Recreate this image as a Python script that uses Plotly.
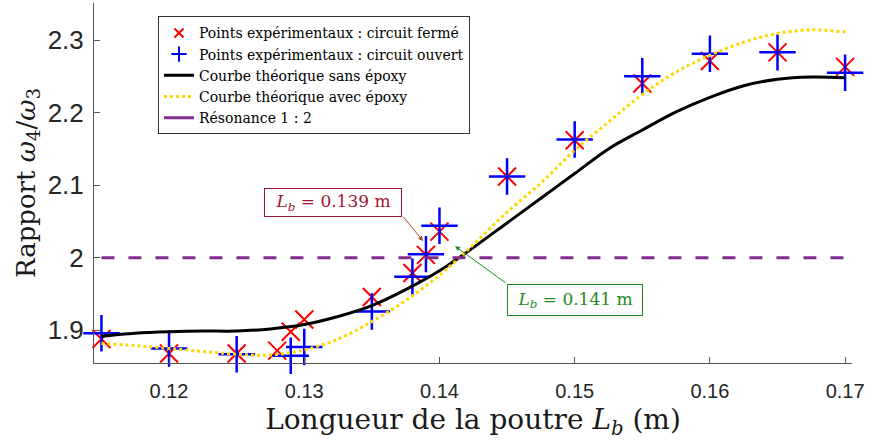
import plotly.graph_objects as go

# ---------------- data ----------------
x_exp = [0.115, 0.120, 0.125, 0.128, 0.129, 0.130, 0.135, 0.138, 0.139, 0.140,
         0.145, 0.150, 0.155, 0.160, 0.165, 0.170]
ratio_ferme = [1.888, 1.868, 1.868, 1.872, 1.898, 1.915, 1.946, 1.979, 2.004, 2.036,
               2.112, 2.162, 2.240, 2.271, 2.283, 2.263]
ratio_ouvert = [1.896, 1.875, 1.867, 1.854, 1.865, 1.877, 1.926, 1.974, 2.005, 2.044,
                2.112, 2.163, 2.250, 2.281, 2.283, 2.255]

x_theo = [0.115, 0.1175, 0.120, 0.1225, 0.125, 0.1275, 0.130, 0.1325, 0.135, 0.1375,
          0.140, 0.1425, 0.145, 0.1475, 0.150, 0.1525, 0.155, 0.1575, 0.160, 0.1625,
          0.165, 0.1675, 0.170]
theo_sans_epoxy = [1.892, 1.896, 1.898, 1.899, 1.899, 1.902, 1.908, 1.919, 1.934, 1.956,
                   1.982, 2.014, 2.048, 2.082, 2.116, 2.150, 2.176, 2.201, 2.221, 2.237,
                   2.246, 2.249, 2.248]
theo_avec_epoxy = [1.882, 1.879, 1.875, 1.871, 1.867, 1.866, 1.873, 1.888, 1.912, 1.941,
                   1.976, 2.018, 2.063, 2.103, 2.148, 2.187, 2.225, 2.256, 2.279, 2.297,
                   2.309, 2.314, 2.311]

resonance_x = [0.115, 0.170]
resonance_y = [2.0, 2.0]

x_ticks = [0.12, 0.13, 0.14, 0.15, 0.16, 0.17]
x_ticklabels = ["0.12", "0.13", "0.14", "0.15", "0.16", "0.17"]
y_ticks = [1.9, 2.0, 2.1, 2.2, 2.3]
y_ticklabels = ["1.9", "2", "2.1", "2.2", "2.3"]

WSERIF = "DejaVu Serif, serif"
SANS = "Liberation Sans, Arial, sans-serif"

RED = "#FF0000"
BLUE = "#0000FF"
GOLD = "#FFD700"
PURPLE = "#7E2F8E"

fig = go.Figure()

# data traces (legend handled by small legend-only traces below)
fig.add_trace(go.Scatter(
    x=x_exp, y=ratio_ferme, mode="markers", showlegend=False, cliponaxis=False,
    marker=dict(symbol="x-thin", size=18, line=dict(color=RED, width=2)),
))
fig.add_trace(go.Scatter(
    x=x_exp, y=ratio_ouvert, mode="markers", showlegend=False, cliponaxis=False,
    marker=dict(symbol="cross-thin", size=26, line=dict(color=BLUE, width=2.5)),
))
fig.add_trace(go.Scatter(
    x=x_theo, y=theo_sans_epoxy, mode="lines", line_shape="spline", showlegend=False,
    line=dict(color="#000000", width=3),
))
fig.add_trace(go.Scatter(
    x=x_theo, y=theo_avec_epoxy, mode="lines", line_shape="spline", showlegend=False,
    line=dict(color=GOLD, width=3, dash="dot"),
))
fig.add_trace(go.Scatter(
    x=resonance_x, y=resonance_y, mode="lines", showlegend=False,
    line=dict(color=PURPLE, width=3, dash="13px,14px"),
))

# legend entries
fig.add_trace(go.Scatter(
    x=[None], y=[None], mode="markers", name="Points expérimentaux : circuit fermé",
    marker=dict(symbol="x-thin", size=9, line=dict(color=RED, width=2)),
))
fig.add_trace(go.Scatter(
    x=[None], y=[None], mode="markers", name="Points expérimentaux : circuit ouvert",
    marker=dict(symbol="cross-thin", size=11, line=dict(color=BLUE, width=2)),
))
fig.add_trace(go.Scatter(
    x=[None], y=[None], mode="lines", name="Courbe théorique sans époxy",
    line=dict(color="#000000", width=3),
))
fig.add_trace(go.Scatter(
    x=[None], y=[None], mode="lines", name="Courbe théorique avec époxy",
    line=dict(color=GOLD, width=3, dash="dot"),
))
fig.add_trace(go.Scatter(
    x=[None], y=[None], mode="lines", name="Résonance 1 : 2",
    line=dict(color=PURPLE, width=3),
))

# Annotations (text boxes + arrows)
red_c = "#A2142F"
green_c = "#1F8A1F"
fig.add_annotation(
    x=0.13213, y=2.076, xref="x", yref="y", showarrow=False,
    text="<i>L</i><sub><i>b</i></sub> = 0.139 m",
    font=dict(family=WSERIF, size=17, color=red_c),
    bordercolor=red_c, borderwidth=1, bgcolor="white",
    width=134, height=25,
)
fig.add_annotation(
    x=0.13879, y=2.023, ax=0.13723, ay=2.0587,
    xref="x", yref="y", axref="x", ayref="y",
    text="", showarrow=True, arrowhead=2, arrowsize=1, arrowwidth=1,
    arrowcolor="#A0522D",
)
fig.add_annotation(
    x=0.15003, y=1.9424, xref="x", yref="y", showarrow=False,
    text="<i>L</i><sub><i>b</i></sub> = 0.141 m",
    font=dict(family=WSERIF, size=17, color=green_c),
    bordercolor=green_c, borderwidth=1, bgcolor="white",
    width=132, height=28,
)
fig.add_annotation(
    x=0.14115, y=2.016, ax=0.1450, ay=1.964,
    xref="x", yref="y", axref="x", ayref="y",
    text="", showarrow=True, arrowhead=2, arrowsize=1, arrowwidth=1,
    arrowcolor=green_c,
)

fig.update_layout(
    width=874, height=444,
    margin=dict(l=94, r=22, t=3, b=81, autoexpand=False),
    paper_bgcolor="white", plot_bgcolor="white",
    showlegend=True,
    legend=dict(
        x=0.0844, y=0.963, xanchor="left", yanchor="top",
        bgcolor="white", bordercolor="#333333", borderwidth=1,
        font=dict(family=WSERIF, size=14, color="#000000"),
        itemwidth=30, tracegroupgap=0,
    ),
    xaxis=dict(
        range=[0.11445, 0.17051], automargin=False,
        tickvals=x_ticks, ticktext=x_ticklabels,
        ticks="inside", ticklen=6, tickcolor="#555555",
        showline=True, linecolor="#555555", linewidth=1,
        showgrid=False, zeroline=False,
        tickfont=dict(family=SANS, size=20, color="#262626"),
        ticklabelstandoff=10,
        title=dict(text="Longueur de la poutre <i>L</i><sub><i>b</i></sub> (m)",
                   font=dict(family=WSERIF, size=28, color="#1a1a1a"), standoff=8),
    ),
    yaxis=dict(
        range=[1.855, 2.351], automargin=False,
        tickvals=y_ticks, ticktext=y_ticklabels,
        ticks="inside", ticklen=6, tickcolor="#555555",
        showline=True, linecolor="#555555", linewidth=1,
        showgrid=False, zeroline=False,
        tickfont=dict(family=SANS, size=26, color="#262626"),
        ticklabelstandoff=4,
        title=dict(text="Rapport <i>ω</i><sub>4</sub>/<i>ω</i><sub>3</sub>",
                   font=dict(family=WSERIF, size=26, color="#1a1a1a"), standoff=4),
    ),
)

fig.write_html("out.html", config={"displayModeBar": False},
               post_script="document.body.style.margin='0px';")
